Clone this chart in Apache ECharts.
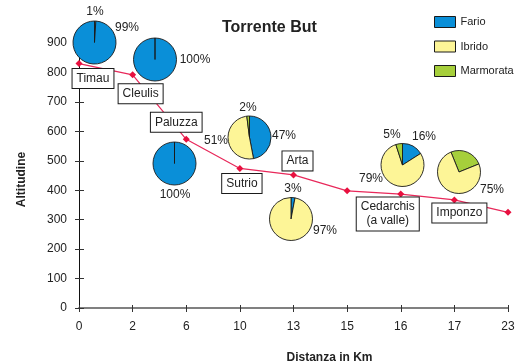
<!DOCTYPE html>
<html>
<head>
<meta charset="utf-8">
<script src="https://cdn.jsdelivr.net/npm/echarts@6/dist/echarts.min.js"></script>
<style>
  html, body { margin: 0; padding: 0; background: #fff; }
  #chart { width: 519px; height: 363px; }
</style>
</head>
<body>
<div id="chart"></div>
<script>
// Distance along the river (km) and altitude (m) of each station
const distances = ['0', '2', '6', '10', '13', '15', '16', '17', '23'];
const altitudes = [830, 792, 573, 474, 452, 398, 387, 367, 325];
const stationNames = ['Timau', 'Cleulis', 'Paluzza', 'Sutrio', 'Arta', '', 'Cedarchis\n(a valle)', 'Imponzo', ''];
const yTicks = [0, 900, 100];

// Trout composition (%) at the sampled stations
const species = ['Fario', 'Ibrido', 'Marmorata'];
const pieStations = ['Timau', 'Cleulis', 'Paluzza', 'Sutrio', 'Arta', 'Cedarchis', 'Imponzo'];
const fario     = [99, 100, 100, 47,  3, 16,  0];
const ibrido    = [ 1,   0,   0, 51, 97, 79, 75];
const marmorata = [ 0,   0,   0,  2,  0,  5, 25];

const FONT = '"Liberation Sans", Arial, sans-serif';
const colors = { Fario: '#0a8fd8', Ibrido: '#fdf597', Marmorata: '#a6cf3b' };

// Placement of each pie: centre (px), slice order, start angle, label anchors (px)
const pieLayout = [
  { center: [94.5, 42.5],  order: [1, 0],    start: 90,  labels: { Ibrido: [95, 12], Fario: [127, 28] } },
  { center: [155, 59.5],   order: [0, 1],    start: 90,  labels: { Fario: [195, 60] } },
  { center: [174.5, 163.5], order: [0, 1],   start: 90,  labels: { Fario: [175, 195] } },
  { center: [249.5, 137.5], order: [0, 1, 2], start: 90, labels: { Marmorata: [248, 108], Ibrido: [216, 141], Fario: [284, 136] } },
  { center: [291, 219],    order: [0, 1],    start: 90,  labels: { Fario: [293, 189], Ibrido: [325, 231] } },
  { center: [402.5, 165],  order: [0, 1, 2], start: 90,  labels: { Marmorata: [392, 135], Fario: [424, 137], Ibrido: [371, 179] } },
  { center: [459, 172],    order: [2, 1],    start: 112, labels: { Marmorata: [466, 143], Ibrido: [492, 190] } }
];

// Station name box offsets relative to each line point (px)
const nameOffsets = [[14, 15], [8, 19], [-10, -17], [2, 15], [4, -14], [0, 0], [-13, 20], [5, 13], [0, 0]];

const shares = [fario, ibrido, marmorata];

const pieSeries = pieStations.map((st, i) => {
  const lay = pieLayout[i];
  const data = lay.order.map(k => ({
    name: species[k],
    value: shares[k][i],
    itemStyle: { color: colors[species[k]] }
  }));
  return {
    type: 'pie',
    name: st,
    center: lay.center,
    radius: 21.5,
    startAngle: lay.start,
    clockwise: true,
    z: 5,
    silent: true,
    animation: false,
    stillShowZeroSum: true,
    itemStyle: { borderColor: '#1a1a1a', borderWidth: 0.9 },
    label: {
      show: true,
      position: 'outside',
      formatter: p => (p.value > 0 ? p.value + '%' : ''),
      fontFamily: FONT, fontSize: 12, color: '#222'
    },
    labelLine: { show: false },
    labelLayout: p => {
      const name = data[p.dataIndex].name;
      const pos = lay.labels[name];
      if (!pos) return { x: -100, y: -100 };
      return { x: pos[0], y: pos[1], align: 'center', verticalAlign: 'middle' };
    },
    data
  };
});

const option = {
  animation: false,
  backgroundColor: '#fff',
  title: {
    text: 'Torrente But',
    left: 217, top: 15,
    textStyle: { fontFamily: FONT, fontSize: 16, fontWeight: 'bold', color: '#222' }
  },
  legend: {
    data: species,
    orient: 'vertical',
    left: 434, top: 16,
    padding: 0,
    itemWidth: 21, itemHeight: 11, itemGap: 12.5,
    icon: 'rect',
    selectedMode: false,
    itemStyle: { borderColor: '#1a1a1a', borderWidth: 1 },
    textStyle: { fontFamily: FONT, fontSize: 11, color: '#222', overflow: 'none' }
  },
  grid: { left: 79, right: 11, top: 43, bottom: 55, containLabel: false, outerBoundsMode: 'none' },
  xAxis: [{
    type: 'category',
    data: distances,
    boundaryGap: false,
    position: 'bottom',
    name: 'Distanza in Km',
    nameLocation: 'middle',
    nameGap: 44,
    nameTextStyle: { fontFamily: FONT, fontSize: 12, fontWeight: 'bold', color: '#222', padding: [0, 0, 0, 72] },
    axisLine: { lineStyle: { color: '#808080', width: 2 } },
    axisTick: { length: 4, lineStyle: { color: '#333' } },
    axisLabel: { margin: 13, fontFamily: FONT, fontSize: 12, color: '#222' }
  }, {
    type: 'category',
    data: distances,
    boundaryGap: false,
    position: 'bottom',
    axisLine: { show: false },
    axisTick: { inside: true, length: 3, lineStyle: { color: '#333' } },
    axisLabel: { show: false }
  }],
  yAxis: [{
    type: 'value',
    min: yTicks[0], max: yTicks[1], interval: yTicks[2],
    name: 'Altitudine',
    nameLocation: 'middle',
    nameGap: 51,
    nameTextStyle: { fontFamily: FONT, fontSize: 12, fontWeight: 'bold', color: '#222', padding: [0, 8, 0, 0] },
    axisLine: { show: true, lineStyle: { color: '#111', width: 1 } },
    axisTick: { show: true, length: 4, lineStyle: { color: '#333' } },
    axisLabel: { margin: 12, fontFamily: FONT, fontSize: 12, color: '#222' },
    splitLine: { show: false }
  }, {
    type: 'value',
    position: 'left',
    min: yTicks[0], max: yTicks[1], interval: yTicks[2],
    axisLine: { show: false },
    axisTick: { show: true, inside: true, length: 5, lineStyle: { color: '#333' } },
    axisLabel: { show: false },
    splitLine: { show: false }
  }],
  series: [{
    type: 'line',
    name: 'Altitudine',
    xAxisIndex: 0, yAxisIndex: 0,
    z: 3,
    symbol: 'diamond',
    symbolSize: 7,
    itemStyle: { color: '#e8103f' },
    lineStyle: { color: '#e8285a', width: 1.2 },
    data: altitudes.map((v, i) => ({
      value: v,
      label: { show: !!stationNames[i] }
    })),
    label: {
      position: 'inside',
      formatter: p => stationNames[p.dataIndex],
      fontFamily: FONT, fontSize: 12, color: '#222',
      lineHeight: 14,
      backgroundColor: '#fff',
      borderColor: '#1a1a1a', borderWidth: 1,
      padding: [3, 4, 2, 4]
    },
    labelLayout: p => ({
      dx: nameOffsets[p.dataIndex][0],
      dy: nameOffsets[p.dataIndex][1],
      hideOverlap: false
    })
  }].concat(pieSeries)
};

const chart = echarts.init(document.getElementById('chart'), null, { renderer: 'canvas' });
chart.setOption(option);
</script>
</body>
</html>
